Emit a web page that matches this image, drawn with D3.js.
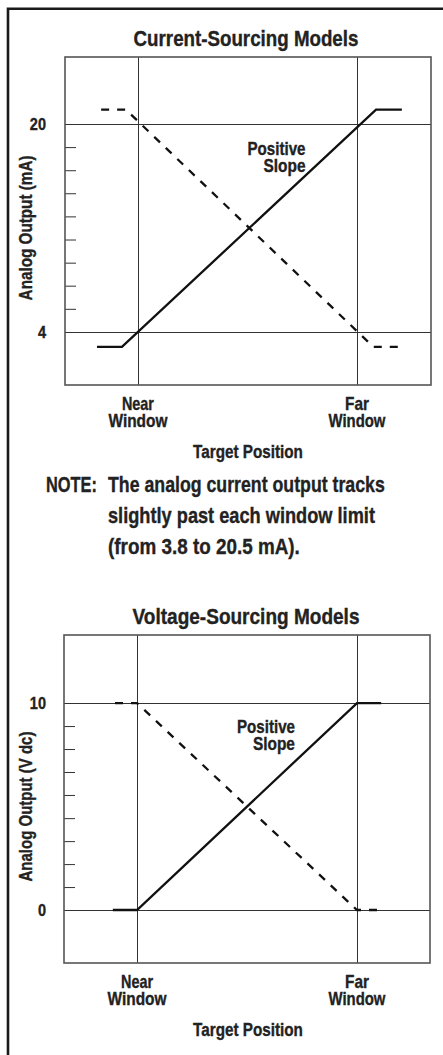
<!DOCTYPE html>
<html>
<head>
<meta charset="utf-8">
<script src="https://cdn.jsdelivr.net/npm/d3@7"></script>
<style>
  html, body { margin: 0; padding: 0; background: #fff; }
  svg { display: block; }
  text { font-family: "Liberation Sans", Arial, "Roboto", sans-serif; font-weight: bold; fill: #222; stroke: #222; stroke-width: 0.35px; }
</style>
</head>
<body>
<script>
// ---------- data ----------
const windowPositions = [0, 1];                 // Near window, Far window
const windowLabels = [["Near", "Window"], ["Far", "Window"]];
const xTitle = "Target Position";

// Current-sourcing chart
const currentTitle = "Current-Sourcing Models";
const currentYLabel = "Analog Output (mA)";
const currentMajorTicks = [4, 20];
const currentMinorTicks = [5.78, 7.56, 9.33, 11.11, 12.89, 14.67, 16.44, 18.22];
const currentPositive = [[-0.187, 2.85], [-0.073, 2.85], [1.087, 21.1], [1.205, 21.1]];
const currentNegative = [[-0.168, 21.1], [-0.055, 21.1], [1.075, 2.85], [1.205, 2.85]];

// Voltage-sourcing chart
const voltageTitle = "Voltage-Sourcing Models";
const voltageYLabel = "Analog Output (V dc)";
const voltageMajorTicks = [0, 10];
const voltageMinorTicks = [1.11, 2.22, 3.33, 4.44, 5.56, 6.67, 7.78, 8.89];
const voltagePositive = [[-0.11, 0], [0, 0], [1, 10], [1.11, 10]];
const voltageNegative = [[-0.10, 10], [0, 10], [1, 0], [1.11, 0]];

const slopeLabel = ["Positive", "Slope"];
const noteLabel = "NOTE:";
const noteLines = ["The analog current output tracks", "slightly past each window limit", "(from 3.8 to 20.5 mA)."];

// ---------- drawing ----------
const W = 443, H = 1055;
const svg = d3.select("body").append("svg").attr("width", W).attr("height", H);
svg.append("rect").attr("width", W).attr("height", H).attr("fill", "#fff");

// condensed text helper: draws text and squeezes it horizontally to a target width
function label(g, x, y, str, size, anchor, width, rotate) {
  const t = g.append("text").attr("text-anchor", anchor || "start")
    .style("font-size", size + "px").text(str);
  const len = t.node().getComputedTextLength();
  const k = width ? width / len : 0.88;
  t.attr("transform", `translate(${x},${y})${rotate ? " rotate(" + rotate + ")" : ""} scale(${k},1)`);
  return t;
}

// outer frame (left + top)
svg.append("path")
  .attr("d", `M8,${H} L8,8.7 L${W},8.7`)
  .attr("fill", "none").attr("stroke", "#1a1a1a").attr("stroke-width", 2.6);

function drawChart(opt) {
  const g = svg.append("g");
  const x = d3.scaleLinear().domain(opt.xDomain).range([opt.left, opt.right]);
  const y = d3.scaleLinear().domain(opt.yDomain).range([opt.bottom, opt.top]);

  // title
  label(g, 246, opt.top - 11, opt.title, 21.5, "middle", opt.titleWidth);

  // minor ticks via axis (inside plot)
  const ax = g.append("g").attr("transform", `translate(${opt.left},0)`)
    .call(d3.axisRight(y).tickValues(opt.minor).tickSize(11).tickFormat(""));
  ax.select(".domain").remove();
  ax.selectAll("line").attr("stroke", "#333").attr("stroke-width", 1);

  // horizontal grid at major values
  g.selectAll(".hgrid").data(opt.major).enter().append("line")
    .attr("x1", opt.left).attr("x2", opt.right)
    .attr("y1", d => Math.round(y(d)) + 0.5).attr("y2", d => Math.round(y(d)) + 0.5)
    .attr("stroke", "#333").attr("stroke-width", 1);

  // vertical grid at window positions
  g.selectAll(".vgrid").data(windowPositions).enter().append("line")
    .attr("x1", d => Math.round(x(d)) + 0.5).attr("x2", d => Math.round(x(d)) + 0.5)
    .attr("y1", opt.top).attr("y2", opt.bottom)
    .attr("stroke", "#333").attr("stroke-width", 1);

  // plot frame
  g.append("rect").attr("x", opt.left).attr("y", opt.top)
    .attr("width", opt.right - opt.left).attr("height", opt.bottom - opt.top)
    .attr("fill", "none").attr("stroke", "#555").attr("stroke-width", 1.6);

  // major tick labels
  opt.major.forEach(d => label(g, 46, y(d) + 6, String(d), 16.5, "end", null));

  // y axis title
  const yc = (y(opt.major[0]) + y(opt.major[1])) / 2;
  label(g, 32, yc, opt.yLabel, 17.5, "middle", opt.yLabelWidth, -90);

  // window labels
  windowPositions.forEach((p, i) => {
    windowLabels[i].forEach((s, j) => {
      label(g, x(p), opt.bottom + 25 + j * 17, s, 18, "middle", opt.winWidths[i][j]);
    });
  });
  label(g, 248, opt.bottom + 73, xTitle, 18, "middle", 110);

  // data lines
  const line = d3.line().x(d => x(d[0])).y(d => y(d[1]));
  g.append("path").datum(opt.negative).attr("d", line)
    .attr("fill", "none").attr("stroke", "#111").attr("stroke-width", 2.3)
    .attr("stroke-dasharray", "8,8");
  g.append("path").datum(opt.positive).attr("d", line)
    .attr("fill", "none").attr("stroke", "#111").attr("stroke-width", 2.3);

  // slope annotation
  slopeLabel.forEach((s, j) => {
    label(g, x(opt.slopeAt[0]), y(opt.slopeAt[1]) + j * 17, s, 18, "end", [58, 42][j]);
  });
}

drawChart({
  title: currentTitle, yLabel: currentYLabel, titleWidth: 225, yLabelWidth: 145,
  winWidths: [[32, 59], [24, 57]],
  left: 65, right: 431, top: 57, bottom: 385,
  xDomain: [-0.333, 1.338], yDomain: [-0.08, 25.15],
  major: currentMajorTicks, minor: currentMinorTicks,
  positive: currentPositive, negative: currentNegative,
  slopeAt: [0.765, 17.6]
});

// note
label(svg, 46, 492, noteLabel, 22, "start", 51);
const noteWidths = [277, 267, 192];
noteLines.forEach((s, i) => label(svg, 108, 492 + i * 31, s, 22, "start", noteWidths[i]));

drawChart({
  title: voltageTitle, yLabel: voltageYLabel, titleWidth: 227, yLabelWidth: 150,
  winWidths: [[32, 59], [24, 57]],
  left: 64, right: 430, top: 635, bottom: 963,
  xDomain: [-0.332, 1.332], yDomain: [-2.56, 13.29],
  major: voltageMajorTicks, minor: voltageMinorTicks,
  positive: voltagePositive, negative: voltageNegative,
  slopeAt: [0.718, 8.55]
});
</script>
</body>
</html>
